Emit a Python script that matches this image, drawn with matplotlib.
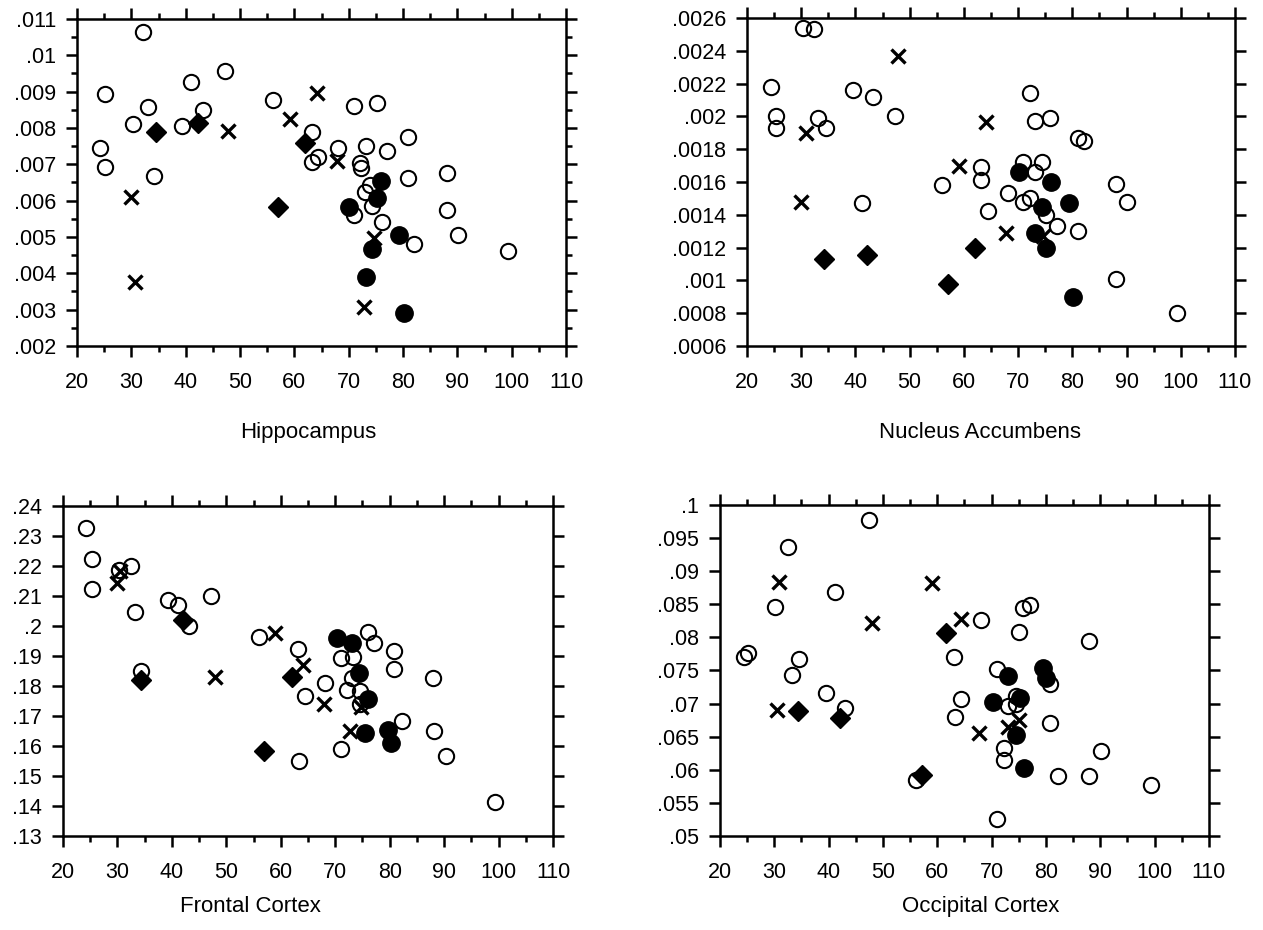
import matplotlib

matplotlib.use("Agg")
import matplotlib.pyplot as plt
from matplotlib.ticker import FuncFormatter, MultipleLocator

plt.rcParams["font.family"] = ["Liberation Sans", "DejaVu Sans"]

# ---- data: (age, value) pairs per marker group ----
hippo_open = [
    (24.2, .00745), (25.2, .00894), (25.2, .00693), (30.3, .00811), (32.1, .01064),
    (33.1, .00858), (34.2, .00668), (39.3, .00806), (41.0, .00927), (43.2, .0085),
    (47.2, .00957), (56.1, .00877), (63.2, .00789), (63.2, .00706), (64.4, .0072),
    (68.0, .00745), (71.0, .0086), (71.0, .0056), (72.1, .00704), (72.3, .0069),
    (73.2, .0075), (73.0, .00624), (73.9, .00643), (74.3, .00585), (75.2, .00869),
    (76.1, .00541), (77.1, .00737), (80.9, .00775), (80.9, .00662), (82.0, .0048),
    (88.1, .00676), (88.1, .00574), (90.1, .00505), (99.3, .00461),
]
hippo_filled = [(70.0, .00583), (75.2, .00607), (76.0, .00655), (79.3, .00505),
                (74.3, .00467), (73.2, .0039), (80.2, .00291)]
hippo_diamond = [(34.5, .00789), (42.2, .00814), (57.0, .00583), (62.0, .00759)]
hippo_cross = [(29.9, .0061), (30.7, .00376), (47.8, .00792), (59.1, .00825),
               (64.2, .00896), (67.9, .00709), (74.7, .00497), (72.8, .00307)]

accumb_open = [
    (24.4, .00218), (25.3, .0020), (25.3, .00193), (30.3, .00254), (32.4, .00253),
    (33.1, .00199), (34.6, .00193), (39.5, .00216), (41.2, .00147), (43.2, .00212),
    (47.3, .0020), (56.0, .00158), (63.2, .00169), (63.2, .00161), (64.4, .00142),
    (68.1, .00153), (70.9, .00172), (70.9, .00148), (72.2, .00214), (72.2, .0015),
    (73.1, .00197), (73.1, .00166), (74.4, .00172), (75.1, .0014), (75.9, .00199),
    (77.2, .00133), (81.0, .00187), (81.0, .0013), (82.2, .00185), (88.1, .00159),
    (88.0, .00101), (90.1, .00148), (99.3, .0008),
]
accumb_filled = [(70.2, .00166), (76.1, .0016), (74.4, .00145), (79.4, .00147),
                 (73.1, .00129), (75.1, .0012), (80.1, .0009)]
accumb_diamond = [(34.3, .00113), (42.1, .001155), (57.0, .00098), (62.0, .0012)]
accumb_cross = [(30.0, .00148), (30.9, .0019), (47.8, .00237), (59.1, .0017),
                (64.1, .001965), (67.7, .00129), (74.6, .00127)]

frontal_open = [
    (24.2, .2327), (25.3, .2223), (25.3, .2123), (30.3, .2187), (32.4, .220),
    (33.2, .2047), (34.3, .185), (39.3, .2087), (41.1, .207), (43.1, .200),
    (47.2, .210), (56.0, .1963), (63.2, .1923), (64.5, .1765), (63.3, .155),
    (68.1, .181), (71.0, .1893), (71.0, .1589), (72.2, .1785), (73.3, .1897),
    (73.1, .1825), (74.6, .1783), (74.5, .1741), (76.0, .198), (77.1, .1943),
    (80.8, .1917), (80.8, .1857), (82.3, .1683), (88.0, .1827), (88.2, .165),
    (90.4, .1566), (99.4, .1413),
]
frontal_filled = [(70.3, .196), (73.1, .1943), (74.4, .1843), (76.1, .1758),
                  (75.4, .1643), (79.6, .1652), (80.3, .161)]
frontal_diamond = [(34.3, .182), (42.1, .202), (57.0, .1583), (62.1, .183)]
frontal_cross = [(29.9, .2143), (30.5, .2185), (47.9, .183), (58.9, .1977),
                 (64.1, .187), (67.9, .1739), (74.7, .173), (72.7, .165)]

occip_open = [
    (24.4, .077), (25.1, .0777), (30.2, .0846), (32.5, .0936), (33.2, .0743),
    (34.6, .0767), (39.5, .0716), (41.2, .0868), (43.1, .0693), (47.4, .0977),
    (56.1, .0585), (63.0, .077), (63.2, .068), (64.4, .0707), (68.1, .0826),
    (71.0, .0752), (72.3, .0633), (72.3, .0614), (71.0, .0525), (73.0, .0696),
    (74.5, .0712), (74.5, .0699), (75.1, .0808), (75.8, .0845), (77.1, .0849),
    (80.8, .073), (80.8, .067), (82.2, .059), (88.0, .0795), (88.0, .059),
    (90.1, .0628), (99.4, .0577),
]
occip_filled = [(70.3, .0702), (73.1, .0742), (74.4, .0652), (75.3, .0709),
                (76.0, .0602), (79.4, .0753), (80.0, .0738)]
occip_diamond = [(34.3, .0688), (42.1, .0678), (57.1, .0592), (61.6, .0807)]
occip_cross = [(30.5, .069), (30.9, .0883), (48.0, .0822), (59.0, .0882),
               (64.3, .0828), (67.7, .0655), (73.1, .0664), (75.1, .0675)]

REGIONS = ["Hippocampus", "Nucleus Accumbens", "Frontal Cortex", "Occipital Cortex"]


def strip_zero(v, pos):
    s = f"{v:.4f}".rstrip("0").rstrip(".")
    return s[1:] if s.startswith("0") else s


def scatter_panel(ax, opens, filled, diamonds, crosses):
    ax.plot(*zip(*opens), "o", ms=11, mfc="none", mec="black", mew=1.5, ls="none")
    ax.plot(*zip(*filled), "o", ms=12.5, mfc="black", mec="black", ls="none")
    ax.plot(*zip(*diamonds), "D", ms=10.5, mfc="black", mec="black", ls="none")
    ax.plot(*zip(*crosses), "x", ms=9.5, mec="black", mew=2.4, ls="none")


def style_axes(ax, ylim, ystep, yminor=None):
    ax.set_xlim(20, 110)
    ax.set_ylim(*ylim)
    ax.xaxis.set_major_locator(MultipleLocator(10))
    ax.xaxis.set_minor_locator(MultipleLocator(5))
    ax.yaxis.set_major_locator(MultipleLocator(ystep))
    if yminor:
        ax.yaxis.set_minor_locator(MultipleLocator(yminor))
    ax.yaxis.set_major_formatter(FuncFormatter(strip_zero))
    for sp in ax.spines.values():
        sp.set_linewidth(1.8)
    ax.tick_params(which="both", direction="out", top=True, right=True,
                   width=1.8, labelsize=15.5)
    ax.tick_params(which="major", length=8)
    ax.tick_params(which="minor", length=4)
    ax.tick_params(axis="x", pad=11)
    ax.tick_params(axis="y", pad=7)


fig = plt.figure(figsize=(12.63, 9.30), dpi=100)

ax1 = fig.add_axes([0.0610, 0.628, 0.3872, 0.3516])
scatter_panel(ax1, hippo_open, hippo_filled, hippo_diamond, hippo_cross)
style_axes(ax1, (.002, .011), .001, .0005)
ax1.set_xlabel(REGIONS[0], fontsize=16)
ax1.xaxis.set_label_coords(0.472, -0.232)

ax2 = fig.add_axes([0.5914, 0.628, 0.3864, 0.3527])
scatter_panel(ax2, accumb_open, accumb_filled, accumb_diamond, accumb_cross)
style_axes(ax2, (.0006, .0026), .0002)
ax2.set_xlabel(REGIONS[1], fontsize=16)
ax2.xaxis.set_label_coords(0.477, -0.232)

ax3 = fig.add_axes([0.0499, 0.1011, 0.388, 0.3548])
scatter_panel(ax3, frontal_open, frontal_filled, frontal_diamond, frontal_cross)
style_axes(ax3, (.13, .24), .01)
ax3.set_xlabel(REGIONS[2], fontsize=16)
ax3.xaxis.set_label_coords(0.382, -0.182)

ax4 = fig.add_axes([0.570, 0.1011, 0.3872, 0.356])
scatter_panel(ax4, occip_open, occip_filled, occip_diamond, occip_cross)
style_axes(ax4, (.05, .10), .005)
ax4.set_xlabel(REGIONS[3], fontsize=16)
ax4.xaxis.set_label_coords(0.534, -0.182)

fig.savefig("out.png", dpi=100)
